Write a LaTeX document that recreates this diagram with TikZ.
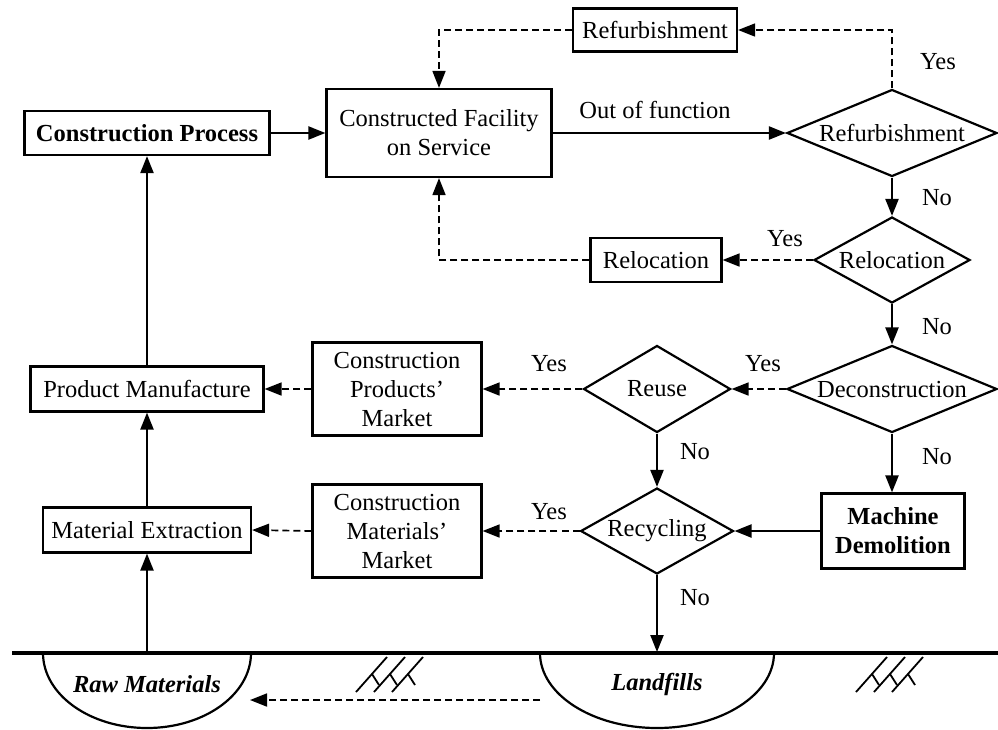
\documentclass[tikz,border=0pt]{standalone}
\usepackage{fontspec}
\setmainfont{Liberation Serif}
\usetikzlibrary{arrows.meta,shapes.geometric}
\begin{document}
\begin{tikzpicture}[x=1pt,y=-1pt,
  font=\fontsize{24.5}{29}\selectfont,
  box/.style={draw,line width=2.2pt,rectangle,inner sep=0pt,align=center},
  dia/.style={draw,line width=2.2pt,diamond,aspect=2.4,inner sep=0pt},
  arr/.style={line width=2.2pt,-{Triangle[length=17pt,width=13pt]}},
  darr/.style={line width=1.7pt,dash pattern=on 7pt off 4pt,-{Triangle[length=17pt,width=13pt]}},
  lbl/.style={inner sep=0pt},
  thin/.style={line width=2.2pt}]
\useasboundingbox (0,0) rectangle (998,729);

% boxes
\node[box,minimum width=245pt,minimum height=44pt,font=\fontsize{24.5}{29}\selectfont\bfseries] (cp) at (147,133) {Construction Process};
\node[box,minimum width=225pt,minimum height=88pt] (cf) at (439,133) {Constructed Facility\\on Service};
\node[box,minimum width=164pt,minimum height=43pt] (rfb) at (655,30) {Refurbishment};
\node[box,minimum width=131pt,minimum height=44pt] (rlb) at (656,260) {Relocation};
\node[box,minimum width=169pt,minimum height=93pt] (cpm) at (397,389) {Construction\\Products'\\Market};
\node[box,minimum width=233pt,minimum height=45pt] (pm) at (147,389) {Product Manufacture};
\node[box,minimum width=169pt,minimum height=93pt] (cmm) at (397,531) {Construction\\Materials'\\Market};
\node[box,minimum width=208pt,minimum height=45pt] (me) at (147,530) {Material Extraction};
\node[box,minimum width=143pt,minimum height=75pt,font=\fontsize{24.5}{29}\selectfont\bfseries] (md) at (893,531) {Machine\\Demolition};

% diamonds
\node[dia,minimum width=210pt,minimum height=87pt] (drf) at (892,133) {Refurbishment};
\node[dia,minimum width=156pt,minimum height=86pt] (drl) at (892,260) {Relocation};
\node[dia,minimum width=210pt,minimum height=87pt] (ddc) at (892,389) {Deconstruction};
\node[dia,minimum width=147pt,minimum height=87pt] (dre) at (657,389) {Reuse};
\node[dia,minimum width=147pt,minimum height=86pt] (drc) at (657,531) {Recycling};

% labels
\node[lbl] (lof) at (655,110) {Out of function};
\node[lbl] (y1) at (938,62) {Yes};
\node[lbl] (n1) at (937,198) {No};
\node[lbl] (y2) at (785,239) {Yes};
\node[lbl] (n2) at (937,327) {No};
\node[lbl] (y3) at (763,364) {Yes};
\node[lbl] (y4) at (549,364) {Yes};
\node[lbl] (n3) at (695,452) {No};
\node[lbl] (n4) at (937,457) {No};
\node[lbl] (y5) at (549,512) {Yes};
\node[lbl] (n5) at (695,598) {No};

% ground
\coordinate (gl) at (12,653);
\coordinate (gr) at (998,653);
\coordinate (g1) at (147,653);
\coordinate (g2) at (657,652);
\draw[line width=4.5pt] (gl) -- (gr);
\draw[thin] (43,653) arc[start angle=180,end angle=360,x radius=104pt,y radius=75pt];
\draw[thin] (540,653) arc[start angle=180,end angle=360,x radius=117pt,y radius=75pt];
\node[lbl,font=\fontsize{24.5}{29}\selectfont\bfseries\itshape] (raw) at (147,684) {Raw Materials};
\node[lbl,font=\fontsize{24.5}{29}\selectfont\bfseries\itshape] (lf) at (657,684) {Landfills};
\coordinate (lfl) at (540,700);
\coordinate (rmr) at (250,700);

% hatches
\foreach \ox in {0,500}{
  \foreach \i in {0,1,2}{
    \draw[line width=1.8pt] (356+\ox+18*\i,692) -- (387+\ox+18*\i,657);
    \draw[line width=1.8pt] (372+\ox+18*\i,674) -- (379+\ox+18*\i,685);
  }
}

% connectors
\draw[arr] (cp) -- (cf);
\draw[arr] (cf.east) -- (drf.west);
\draw[darr] (drf.north) |- (rfb.east);
\draw[darr] (rfb.west) -| (cf.north);
\draw[arr] (drf.south) -- (drl.north);
\draw[darr] (drl.west) -- (rlb.east);
\draw[darr] (rlb.west) -| (cf.south);
\draw[arr] (drl.south) -- (ddc.north);
\draw[darr] (ddc.west) -- (dre.east);
\draw[darr] (dre.west) -- (cpm.east);
\draw[darr] (cpm.west) -- (pm.east);
\draw[arr] (pm.north) -- (cp.south);
\draw[arr] (dre.south) -- (drc.north);
\draw[arr] (ddc.south) -- (md.north -| ddc.south);
\draw[arr] (md.west) -- (drc.east);
\draw[darr] (drc.west) -- (cmm.east);
\draw[darr] (cmm.west) -- (me.east);
\draw[arr] (me.north) -- (pm.south);
\draw[arr] (g1) -- (me.south);
\draw[arr] (drc.south) -- (g2);
\draw[darr] (lfl) -- (rmr);
\end{tikzpicture}
\end{document}
